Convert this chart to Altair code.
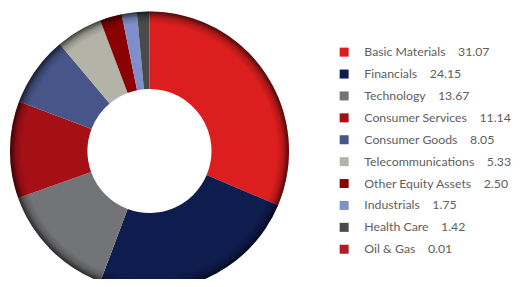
import altair as alt
import pandas as pd

sectors = ["Basic Materials", "Financials", "Technology", "Consumer Services",
           "Consumer Goods", "Telecommunications", "Other Equity Assets",
           "Industrials", "Health Care", "Oil & Gas"]
values = [31.07, 24.15, 13.67, 11.14, 8.05, 5.33, 2.50, 1.75, 1.42, 0.01]
palette = ["#DC1E1E", "#0E1C4E", "#737477", "#A50F16", "#475589",
           "#B4B3A8", "#8B0000", "#7F8FCA", "#4A4A4A", "#B01C24"]

gap = "\u00a0" * 4
labels = [f"{s}{gap}{v:.2f}" for s, v in zip(sectors, values)]
df = pd.DataFrame({"label": labels, "value": values, "idx": list(range(len(values)))})

CX, CY, R_OUT, R_IN = 141.5, 143, 139.5, 62

donut = alt.Chart(df).mark_arc(radius=R_OUT, radius2=R_IN).encode(
    theta=alt.Theta("value:Q", stack=True),
    order=alt.Order("idx:Q"),
    color=alt.Color(
        "label:N",
        scale=alt.Scale(domain=labels, range=palette),
        sort=labels,
        legend=alt.Legend(
            title=None, orient="none", legendX=330, legendY=38,
            symbolType="square", symbolSize=81, symbolStrokeWidth=0,
            labelFont="Lato", labelFontSize=12.3, labelColor="#606060",
            labelOffset=14, rowPadding=8.9, padding=0, labelLimit=300,
        ),
    ),
    x=alt.value(CX), y=alt.value(CY),
)

ring_df = pd.DataFrame({"k": [1]})
shade = alt.Chart(ring_df).mark_arc(
    theta=0, theta2=6.2832, radius=R_OUT, radius2=R_OUT - 16,
    color=alt.RadialGradient(
        gradient="radial", x1=0.5, y1=0.5, r1=0, x2=0.5, y2=0.5, r2=0.5,
        stops=[
            alt.GradientStop(offset=0, color="rgba(0,0,0,0)"),
            alt.GradientStop(offset=0.915, color="rgba(0,0,0,0)"),
            alt.GradientStop(offset=0.96, color="rgba(0,0,0,0.2)"),
            alt.GradientStop(offset=1, color="rgba(0,0,0,0.65)"),
        ],
    ),
).encode(x=alt.value(CX), y=alt.value(CY))

chart = alt.layer(donut, shade).properties(
    width=504, height=271,
    autosize=alt.AutoSizeParams(type="none"),
    padding=0,
).configure_view(stroke=None)

chart.save("out.html", embed_options={"renderer": "svg", "actions": False})
